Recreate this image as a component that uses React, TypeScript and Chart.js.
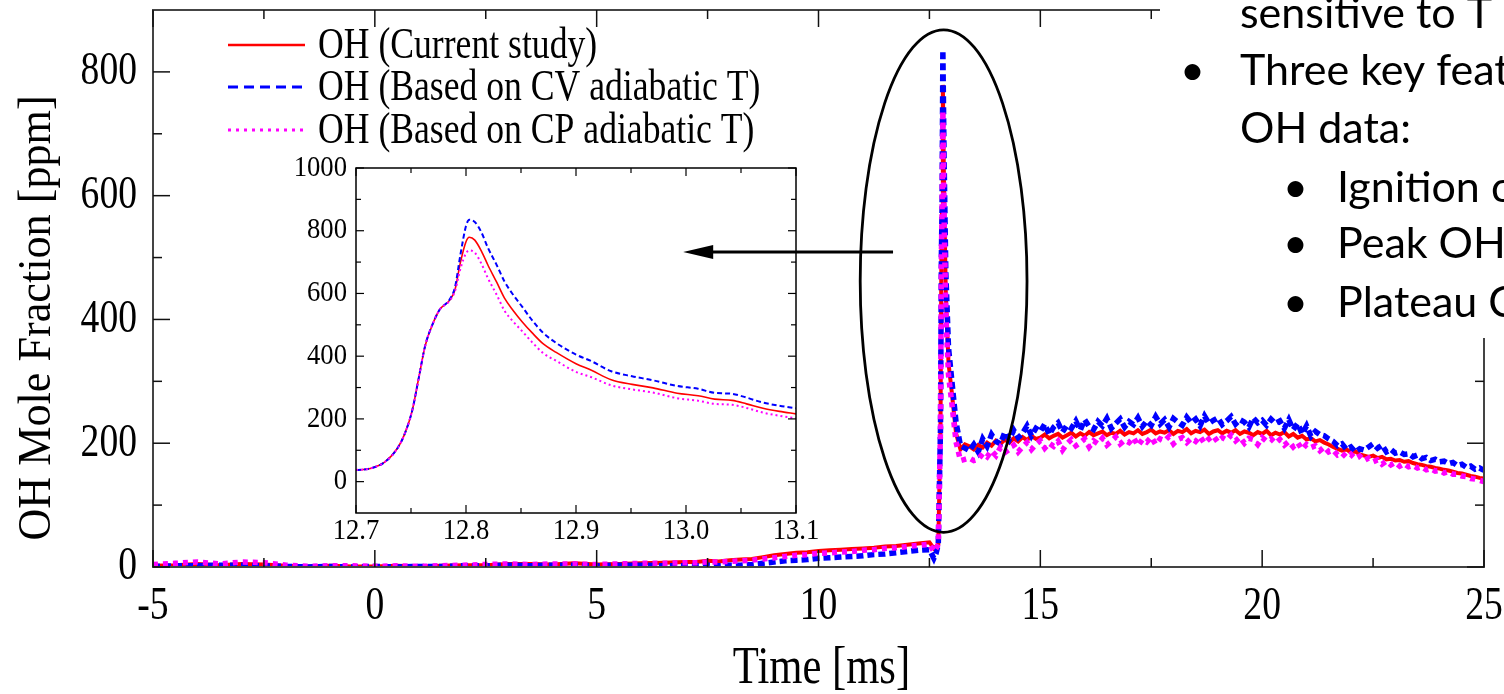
import React, { useEffect, useRef } from "react";
import { Chart, registerables } from "chart.js";

Chart.register(...registerables);

// ---------------- main chart data (time in ms, OH in ppm) ----------------
const tFlat = [-5, -4.5, -4, -3.5, -3, -2.5, -2, -1.5, -1, -0.5, 0, 0.5, 1, 1.5, 2, 2.5, 3, 3.5, 4, 4.5, 5, 5.5, 6, 6.5, 7];
const redFlat = [2, 3, 5, 3, 5, 4, 2, 1, 2, 1, 1, 2, 1, 2, 3, 3, 5, 5, 4, 6, 4, 5, 6, 7, 8];
const blueFlat = [1, 2, 2, 3, 3, 2, 1, 0, 1, 0, 1, 0, 1, 1, 2, 2, 3, 2, 3, 3, 2, 3, 3, 2, 2];
const magFlat = [4, 6, 8, 5, 8, 7, 3, 1, 2, 2, 1, 2, 1, 2, 3, 4, 5, 4, 5, 5, 4, 5, 6, 6, 7];

const tRise = [7.25, 7.5, 7.75, 8, 8.25, 8.5, 8.75, 9, 9.25, 9.5, 9.75, 10, 10.25, 10.5, 10.75, 11, 11.25, 11.5, 11.75, 12, 12.25, 12.5];
const redRise = [8, 10, 9, 11, 12, 13, 16, 19, 21, 23, 24, 26, 27, 28, 29, 30, 31, 33, 34, 36, 38, 40];
const blueRise = [2, 3, 2, 3, 3, 4, 6, 8, 10, 11, 12, 14, 15, 16, 17, 18, 20, 21, 23, 25, 27, 28];
const magRise = [7, 8, 8, 9, 10, 11, 13, 15, 17, 19, 20, 22, 23, 24, 25, 27, 28, 30, 31, 33, 35, 37];

const tSpike = [12.6, 12.65, 12.7, 12.75, 12.77, 12.785, 12.803, 12.83, 12.87, 12.93, 13.0, 13.1, 13.2, 13.3];
const redSpike = [30, 33, 37, 225, 505, 578, 779, 610, 440, 330, 285, 216, 190, 198];
const blueSpike = [14, 22, 37, 225, 505, 578, 835, 665, 475, 355, 305, 234, 196, 192];
const magSpike = [25, 30, 37, 225, 505, 578, 737, 570, 410, 310, 268, 202, 172, 174];

const tPlateau = [
  13.4, 13.5, 13.6, 13.7, 13.8, 13.9, 14.0, 14.1, 14.2, 14.3,
  14.4, 14.5, 14.6, 14.7, 14.8, 14.9, 15.0, 15.1, 15.2, 15.3,
  15.4, 15.5, 15.6, 15.7, 15.8, 15.9, 16.0, 16.1, 16.2, 16.3,
  16.4, 16.5, 16.6, 16.7, 16.8, 16.9, 17.0, 17.1, 17.2, 17.3,
  17.4, 17.5, 17.6, 17.7, 17.8, 17.9, 18.0, 18.1, 18.2, 18.3,
  18.4, 18.5, 18.6, 18.7, 18.8, 18.9, 19.0, 19.1, 19.2, 19.3,
  19.4, 19.5, 19.6, 19.7, 19.8, 19.9, 20.0, 20.1, 20.2, 20.3,
  20.4, 20.5, 20.6, 20.7, 20.8, 20.9, 21.0, 21.1, 21.2, 21.3,
  21.4, 21.5, 21.6, 21.7, 21.8, 21.9, 22.0, 22.1, 22.2, 22.3,
  22.4, 22.5, 22.6, 22.7, 22.8, 22.9, 23.0, 23.1, 23.2, 23.3,
  23.4, 23.5, 23.6, 23.7, 23.8, 23.9, 24.0, 24.1, 24.2, 24.3,
  24.4, 24.5, 24.6, 24.7, 24.8, 24.9, 25.0,
];
const bluePlateau = [
  188, 198, 186, 207, 195, 214, 203, 199, 218, 206,
  221, 209, 216, 228, 212, 224, 219, 231, 214, 226,
  233, 218, 229, 224, 236, 221, 238, 227, 222, 235,
  228, 240, 224, 232, 239, 226, 235, 230, 241, 227,
  236, 229, 243, 231, 238, 226, 240, 234, 229, 242,
  233, 239, 228, 244, 232, 237, 241, 230, 236, 243,
  231, 238, 234, 226, 241, 233, 237, 229, 239, 232,
  236, 224, 238, 222, 232, 215, 228, 211, 219, 214,
  212, 207, 203, 196, 199, 190, 194, 186, 191, 189,
  194, 199, 192, 197, 186, 190, 184, 186, 182, 183,
  178, 181, 175, 177, 172, 174, 170, 171, 167, 169,
  164, 166, 161, 163, 158, 160, 156,
];
const redPlateau = [
  195, 190, 197, 193, 201, 196, 204, 199, 206, 201,
  208, 203, 210, 205, 212, 207, 209, 214, 208, 212,
  215, 209, 213, 217, 211, 216, 212, 218, 213, 216,
  219, 213, 217, 215, 220, 214, 218, 216, 221, 215,
  218, 222, 216, 219, 217, 221, 215, 220, 218, 223,
  216, 220, 218, 222, 215, 219, 221, 216, 220, 217,
  221, 215, 219, 217, 213, 218, 215, 220, 213, 217,
  214, 218, 211, 215, 209, 212, 206, 208, 203, 205,
  201, 198, 194, 191, 188, 190, 185, 187, 182, 180,
  178, 180, 176, 178, 174, 175, 172, 173, 170, 171,
  168, 166, 165, 163, 162, 160, 159, 157, 156, 154,
  152, 151, 149, 147, 146, 144, 143,
];
const magPlateau = [
  176, 172, 174, 183, 178, 188, 180, 193, 185, 190,
  197, 186, 194, 201, 190, 198, 204, 192, 200, 195,
  203, 189, 199, 206, 196, 201, 207, 194, 204, 199,
  208, 197, 203, 210, 199, 205, 201, 209, 196, 206,
  202, 210, 198, 207, 204, 211, 199, 206, 209, 201,
  208, 203, 211, 200, 207, 212, 202, 209, 205, 213,
  204, 210, 200, 208, 206, 198, 209, 203, 207, 200,
  206, 197, 203, 194, 201, 190, 198, 193, 196, 188,
  194, 186, 189, 181, 184, 177, 182, 175, 179, 172,
  176, 170, 173, 166, 171, 165, 169, 163, 167, 162,
  164, 160, 162, 157, 159, 155, 156, 152, 154, 150,
  150, 147, 146, 143, 142, 140, 138,
];

// ---------------- inset data ----------------
const insetT = [12.700, 12.713, 12.726, 12.738, 12.744, 12.751, 12.757, 12.763, 12.770, 12.776, 12.785, 12.790, 12.795, 12.800, 12.803, 12.808, 12.814, 12.820, 12.828, 12.835, 12.843, 12.851, 12.860, 12.870, 12.882, 12.900, 12.914, 12.932, 12.951, 12.970, 12.992, 13.011, 13.026, 13.042, 13.055, 13.070, 13.085, 13.100];
const insetRed = [37, 42, 62, 108, 150, 225, 330, 435, 505, 548, 578, 612, 700, 765, 779, 770, 735, 690, 635, 585, 545, 510, 475, 440, 412, 376, 355, 325, 310, 299, 282, 274, 263, 259, 248, 234, 224, 216];
const insetBlue = [37, 42, 62, 108, 150, 225, 330, 435, 505, 548, 580, 620, 725, 815, 835, 828, 795, 745, 690, 638, 595, 558, 515, 475, 442, 405, 384, 352, 336, 323, 305, 296, 283, 280, 268, 252, 242, 234];
const insetMag = [37, 42, 62, 108, 150, 225, 330, 435, 505, 548, 576, 608, 680, 728, 737, 730, 695, 648, 595, 545, 510, 480, 445, 410, 385, 350, 333, 307, 294, 284, 266, 258, 248, 245, 235, 220, 210, 202];

// ---------------- labels / ticks ----------------
const seriesNames = ["OH (Current study)", "OH (Based on CV adiabatic T)", "OH (Based on CP adiabatic T)"];
const seriesColors = ["#ff0000", "#0000ff", "#ff00ff"];
const xMajor = [-5, 0, 5, 10, 15, 20, 25];
const xTickLabels = ["-5", "0", "5", "10", "15", "20", "25"];
const xMinor = [-2.5, 2.5, 7.5, 12.5, 17.5, 22.5];
const yMajor = [0, 200, 400, 600, 800];
const yTickLabels = ["0", "200", "400", "600", "800"];
const yMinor = [100, 300, 500, 700];
const insetXMajor = [12.7, 12.8, 12.9, 13.0, 13.1];
const insetXLabels = ["12.7", "12.8", "12.9", "13.0", "13.1"];
const insetXMinor = [12.75, 12.85, 12.95, 13.05];
const insetYMajor = [0, 200, 400, 600, 800, 1000];
const insetYLabels = ["0", "200", "400", "600", "800", "1000"];
const insetYMinor = [100, 300, 500, 700, 900];
const xTitle = "Time [ms]";
const yTitle = "OH Mole Fraction [ppm]";
const sideText = ["sensitive to T", "Three key feat", "OH data:", "Ignition c", "Peak OH", "Plateau C"];

// annotation (in data units)
const ellipseCenter = { x: 12.82, y: 462 };
const ellipseRadius = { x: 1.88, y: 406 };
const arrowFrom = { x: 11.68, y: 509 };
const arrowTo = { x: 6.95, y: 509 };

const SERIF = '"Liberation Serif", "Times New Roman", Times, serif';
const SANS = 'Lato, "Open Sans", sans-serif';

const mainT = [...tFlat, ...tRise, ...tSpike, ...tPlateau];
const redAll = [...redFlat, ...redRise, ...redSpike, ...redPlateau];
const blueAll = [...blueFlat, ...blueRise, ...blueSpike, ...bluePlateau];
const magAll = [...magFlat, ...magRise, ...magSpike, ...magPlateau];
const pts = (ts: number[], vs: number[]) => ts.map((t, i) => ({ x: t, y: vs[i] }));

function txt(ctx: CanvasRenderingContext2D, s: string, x: number, y: number, size: number, sx: number,
  align: CanvasTextAlign, base: CanvasTextBaseline, family = SERIF, rot = 0) {
  ctx.save();
  ctx.translate(x, y);
  if (rot) ctx.rotate(rot);
  ctx.scale(sx, 1);
  ctx.font = `${size}px ${family}`;
  ctx.textAlign = align;
  ctx.textBaseline = base;
  ctx.fillStyle = "#000";
  ctx.fillText(s, 0, 0);
  ctx.restore();
}

function seg(ctx: CanvasRenderingContext2D, x1: number, y1: number, x2: number, y2: number) {
  ctx.beginPath();
  ctx.moveTo(x1, y1);
  ctx.lineTo(x2, y2);
  ctx.stroke();
}

const mainDecor = {
  id: "mainDecor",
  afterDraw(chart: any) {
    const { ctx, chartArea: ca, scales } = chart;
    const xs = scales.x, ys = scales.y;
    ctx.save();
    // frame
    ctx.strokeStyle = "#444";
    ctx.lineWidth = 2;
    ctx.strokeRect(ca.left, ca.top, ca.right - ca.left, ca.bottom - ca.top);
    // ticks
    ctx.strokeStyle = "#111";
    ctx.lineWidth = 1.5;
    const xt = (v: number, len: number) => {
      const p = xs.getPixelForValue(v);
      seg(ctx, p, ca.bottom, p, ca.bottom - len);
      seg(ctx, p, ca.top, p, ca.top + len);
    };
    const yt = (v: number, len: number) => {
      const p = ys.getPixelForValue(v);
      seg(ctx, ca.left, p, ca.left + len, p);
      seg(ctx, ca.right, p, ca.right - len, p);
    };
    xMajor.forEach((v) => xt(v, 17));
    xMinor.forEach((v) => xt(v, 9));
    yMajor.forEach((v) => yt(v, 17));
    yMinor.forEach((v) => yt(v, 9));
    // tick labels
    xMajor.forEach((v, i) => txt(ctx, xTickLabels[i], xs.getPixelForValue(v), ca.bottom + 40, 47, 0.8, "center", "middle"));
    yMajor.forEach((v, i) => txt(ctx, yTickLabels[i], ca.left - 16, ys.getPixelForValue(v), 47, 0.8, "right", "middle"));
    // axis titles
    txt(ctx, xTitle, (ca.left + ca.right) / 2 + 3, ca.bottom + 102, 52, 0.82, "center", "middle");
    txt(ctx, yTitle, 38, 318, 46, 0.96, "center", "middle", SERIF, -Math.PI / 2);
    // legend
    const lx0 = 228, lx1 = 305, ly = [45, 87, 130];
    const dashes = [[], [10, 6], [3, 5]];
    const widths = [2.5, 3, 3];
    seriesNames.forEach((n, i) => {
      ctx.save();
      ctx.strokeStyle = seriesColors[i];
      ctx.lineWidth = widths[i];
      ctx.setLineDash(dashes[i]);
      seg(ctx, lx0, ly[i], lx1, ly[i]);
      ctx.restore();
      txt(ctx, n, 318, ly[i] + 1, 44, 0.81, "left", "middle");
    });
    // ellipse
    const cx = xs.getPixelForValue(ellipseCenter.x);
    const cy = ys.getPixelForValue(ellipseCenter.y);
    const rx = xs.getPixelForValue(ellipseCenter.x + ellipseRadius.x) - cx;
    const ry = cy - ys.getPixelForValue(ellipseCenter.y + ellipseRadius.y);
    ctx.strokeStyle = "#000";
    ctx.lineWidth = 2.8;
    ctx.beginPath();
    ctx.ellipse(cx, cy, rx, ry, 0, 0, Math.PI * 2);
    ctx.stroke();
    // arrow
    const ax0 = xs.getPixelForValue(arrowFrom.x), ay0 = ys.getPixelForValue(arrowFrom.y);
    const ax1 = xs.getPixelForValue(arrowTo.x), ay1 = ys.getPixelForValue(arrowTo.y);
    ctx.lineWidth = 3;
    seg(ctx, ax0, ay0, ax1 + 28, ay1);
    ctx.fillStyle = "#000";
    ctx.beginPath();
    ctx.moveTo(ax1, ay1);
    ctx.lineTo(ax1 + 30, ay1 - 7);
    ctx.lineTo(ax1 + 30, ay1 + 7);
    ctx.closePath();
    ctx.fill();
    // right text box (slide text overlapping the figure)
    ctx.fillStyle = "#fff";
    ctx.fillRect(1160, 0, 344, 338);
    txt(ctx, sideText[0], 1240, 28, 43, 1, "left", "alphabetic", SANS);
    txt(ctx, "\u2022", 1180, 85, 43, 1, "left", "alphabetic", SANS);
    txt(ctx, sideText[1], 1240, 85, 43, 1, "left", "alphabetic", SANS);
    txt(ctx, sideText[2], 1240, 143, 43, 1, "left", "alphabetic", SANS);
    [202, 258, 317].forEach((b, i) => {
      txt(ctx, "\u2022", 1283, b, 43, 1, "left", "alphabetic", SANS);
      txt(ctx, sideText[3 + i], 1337, b, 43, 1, "left", "alphabetic", SANS);
    });
    ctx.restore();
  },
};

const insetDecor = {
  id: "insetDecor",
  afterDraw(chart: any) {
    const { ctx, chartArea: ca, scales } = chart;
    const xs = scales.x, ys = scales.y;
    ctx.save();
    ctx.strokeStyle = "#000";
    ctx.lineWidth = 1.5;
    ctx.strokeRect(ca.left, ca.top, ca.right - ca.left, ca.bottom - ca.top);
    ctx.lineWidth = 1.2;
    const xt = (v: number, len: number) => {
      const p = xs.getPixelForValue(v);
      seg(ctx, p, ca.bottom, p, ca.bottom - len);
      seg(ctx, p, ca.top, p, ca.top + len);
    };
    const yt = (v: number, len: number) => {
      const p = ys.getPixelForValue(v);
      seg(ctx, ca.left, p, ca.left + len, p);
      seg(ctx, ca.right, p, ca.right - len, p);
    };
    insetXMajor.forEach((v) => xt(v, 8));
    insetXMinor.forEach((v) => xt(v, 5));
    insetYMajor.forEach((v) => yt(v, 8));
    insetYMinor.forEach((v) => yt(v, 5));
    insetXMajor.forEach((v, i) => txt(ctx, insetXLabels[i], xs.getPixelForValue(v), ca.bottom + 18, 29, 0.92, "center", "middle"));
    insetYMajor.forEach((v, i) => txt(ctx, insetYLabels[i], ca.left - 9, ys.getPixelForValue(v), 29, 0.92, "right", "middle"));
    ctx.restore();
  },
};

export default function App() {
  const mainRef = useRef<HTMLCanvasElement>(null);
  const insetRef = useRef<HTMLCanvasElement>(null);

  useEffect(() => {
    const mk = (label: string, data: any[], i: number, width: number, dash: number[], order: number, mono = false) => ({
      label,
      data,
      borderColor: seriesColors[i],
      backgroundColor: seriesColors[i],
      borderWidth: width,
      borderDash: dash,
      pointRadius: 0,
      fill: false,
      tension: 0,
      order,
      cubicInterpolationMode: mono ? "monotone" : "default",
    });

    const main = new Chart(mainRef.current!, {
      type: "line",
      data: {
        datasets: [
          mk(seriesNames[0], pts(mainT, redAll), 0, 4, [], 3),
          mk(seriesNames[1], pts(mainT, blueAll), 1, 5.5, [7, 4], 2),
          mk(seriesNames[2], pts(mainT, magAll), 2, 5.5, [5, 5], 1),
        ] as any,
      },
      options: {
        responsive: false,
        maintainAspectRatio: false,
        devicePixelRatio: 1,
        animation: false,
        events: [],
        layout: { padding: { left: 153, right: 20, top: 10, bottom: 127 } },
        plugins: { legend: { display: false }, tooltip: { enabled: false } },
        scales: {
          x: { type: "linear", min: -5, max: 25, display: false },
          y: { type: "linear", min: 0, max: 900, display: false },
        },
      },
      plugins: [mainDecor],
    });

    const inset = new Chart(insetRef.current!, {
      type: "line",
      data: {
        datasets: [
          mk(seriesNames[0], pts(insetT, insetRed), 0, 1.6, [], 3, true),
          mk(seriesNames[1], pts(insetT, insetBlue), 1, 2, [5, 3], 2, true),
          mk(seriesNames[2], pts(insetT, insetMag), 2, 2, [2, 3], 1, true),
        ] as any,
      },
      options: {
        responsive: false,
        maintainAspectRatio: false,
        devicePixelRatio: 1,
        animation: false,
        events: [],
        layout: { padding: { left: 76, right: 24, top: 18, bottom: 37 } },
        plugins: { legend: { display: false }, tooltip: { enabled: false } },
        scales: {
          x: { type: "linear", min: 12.7, max: 13.1, display: false },
          y: { type: "linear", min: -100, max: 1000, display: false },
        },
      },
      plugins: [insetDecor],
    });

    return () => {
      main.destroy();
      inset.destroy();
    };
  }, []);

  return (
    <div style={{ position: "fixed", left: 0, top: 0, width: 1504, height: 694, background: "#fff", overflow: "hidden" }}>
      <canvas ref={mainRef} width={1504} height={694} style={{ position: "absolute", left: 0, top: 0 }} />
      <canvas ref={insetRef} width={540} height={400} style={{ position: "absolute", left: 280, top: 150 }} />
    </div>
  );
}
